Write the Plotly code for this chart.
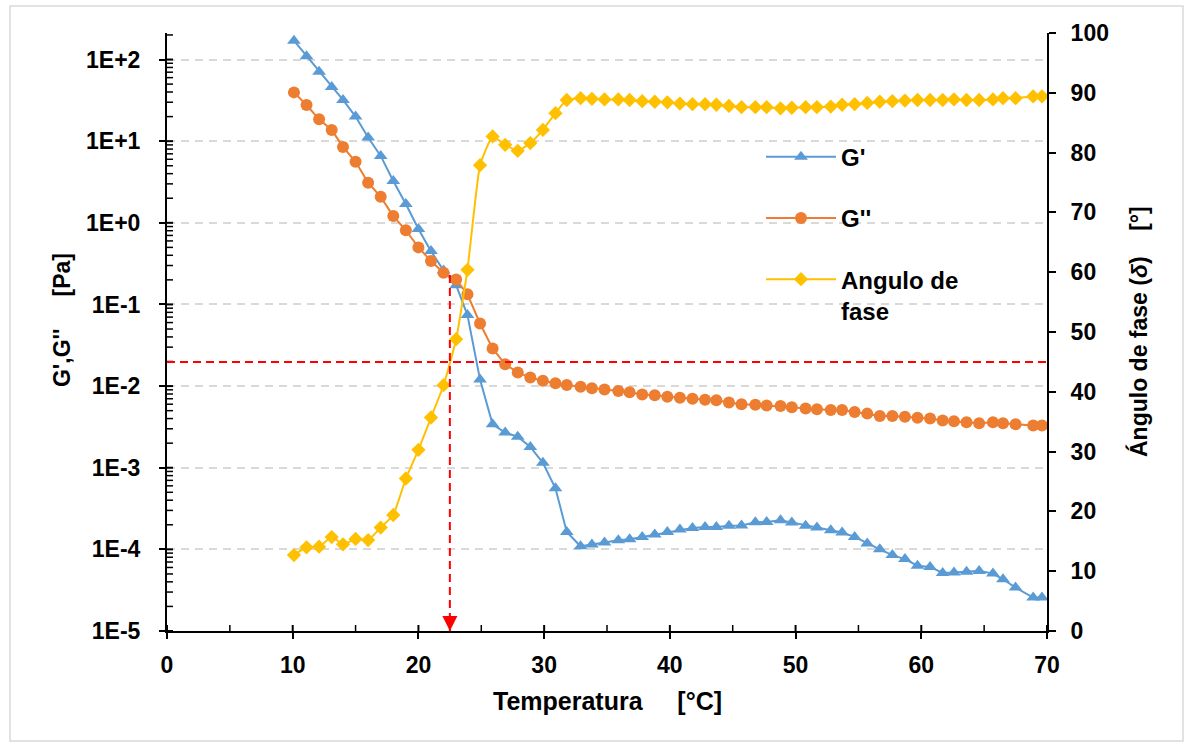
import plotly.graph_objects as go

# Temperature sweep [°C]
temperatura = [10.1, 11.1, 12.1, 13.1, 14.0, 15.0, 16.0, 17.0, 18.0, 19.0,
               20.0, 21.0, 22.0, 23.0, 23.9, 24.9, 25.9, 26.9, 27.9, 28.9,
               29.9, 30.9, 31.8, 32.9, 33.8, 34.8, 35.9, 36.8, 37.8, 38.8,
               39.8, 40.8, 41.8, 42.8, 43.7, 44.7, 45.7, 46.8, 47.7, 48.8,
               49.7, 50.8, 51.7, 52.8, 53.7, 54.7, 55.7, 56.7, 57.7, 58.7,
               59.7, 60.7, 61.7, 62.6, 63.6, 64.6, 65.7, 66.5, 67.5, 68.9, 69.6]

# Storage modulus G' [Pa]
g_prima = [170, 110, 71, 46, 32, 20, 11.1, 6.6, 3.25, 1.7,
           0.84, 0.45, 0.26, 0.172, 0.074, 0.012, 0.0034, 0.0027, 0.0024, 0.0018,
           0.00115, 0.00056, 0.000163, 0.000109, 0.000115, 0.000121, 0.000129, 0.000133, 0.000142, 0.000152,
           0.000163, 0.000175, 0.000183, 0.000188, 0.000188, 0.000194, 0.000196, 0.000215, 0.000216, 0.000228,
           0.000214, 0.000194, 0.000185, 0.000171, 0.000161, 0.000142, 0.000118, 0.0001, 8.5e-5, 7.6e-5,
           6.3e-5, 6.1e-5, 5.15e-5, 5.2e-5, 5.3e-5, 5.45e-5, 5.05e-5, 4.3e-5, 3.4e-5, 2.57e-5, 2.57e-5]

# Loss modulus G'' [Pa]
g_segunda = [39.6, 27.7, 18.5, 13.7, 8.5, 5.6, 3.1, 2.08, 1.21, 0.81,
             0.50, 0.34, 0.244, 0.202, 0.133, 0.0585, 0.0289, 0.0185, 0.0147, 0.0127,
             0.0116, 0.0108, 0.0103, 0.0098, 0.0094, 0.0091, 0.0087, 0.0084, 0.0079, 0.0077,
             0.0074, 0.0072, 0.0070, 0.0068, 0.0067, 0.0063, 0.0060, 0.0059, 0.0058, 0.0057,
             0.0055, 0.0053, 0.0052, 0.0051, 0.0051, 0.0048, 0.0046, 0.0043, 0.0043, 0.0042,
             0.0041, 0.0040, 0.0038, 0.0037, 0.0036, 0.0035, 0.0036, 0.0035, 0.0034, 0.0033, 0.0033]

# Phase angle delta [°]
angulo_fase = [12.7, 14.0, 14.1, 15.7, 14.5, 15.4, 15.2, 17.3, 19.4, 25.5,
               30.3, 35.7, 41.1, 48.8, 60.4, 77.9, 82.7, 81.3, 80.3, 81.6,
               83.8, 86.6, 88.8, 89.1, 89.0, 88.9, 88.9, 88.8, 88.6, 88.5,
               88.4, 88.2, 88.1, 88.1, 88.0, 87.8, 87.6, 87.6, 87.6, 87.4,
               87.5, 87.6, 87.6, 87.7, 88.0, 88.1, 88.3, 88.5, 88.6, 88.7,
               88.8, 88.8, 88.8, 88.9, 88.8, 88.8, 88.9, 89.1, 89.1, 89.4, 89.4]

# Gel point (G' = G'') and the 45° reference
t_cruce = 22.5
g_cruce = 0.23
delta_ref = 45

x_range = [0, 70]
y_log_range = [-5, 2.325]
x_ticks = [0, 10, 20, 30, 40, 50, 60, 70]
x_minor_ticks = [0, 5, 10, 15, 20, 25, 30, 35, 40, 45, 50, 55, 60, 65, 70]
y_ticks = [1e-5, 1e-4, 1e-3, 1e-2, 1e-1, 1e0, 1e1, 1e2]
y_ticktext = ["1E-5", "1E-4", "1E-3", "1E-2", "1E-1", "1E+0", "1E+1", "1E+2"]
y_minor_ticks = [m * d for d in y_ticks for m in range(1, 10)
                 if m * d <= 10 ** y_log_range[1]]
y2_ticks = [0, 10, 20, 30, 40, 50, 60, 70, 80, 90, 100]
y_min = 1e-5

C_GP = "#5B9BD5"
C_GS = "#ED7D31"
C_AF = "#FFC000"
FONT = "Liberation Sans, Arial, sans-serif"

# plot-area size in pixels (used for inner tick lengths)
PW, PH = 880, 598
TICK_IN = 6

fig = go.Figure()

fig.add_trace(go.Scatter(
    x=temperatura, y=g_prima, name="G'", mode="lines+markers",
    line=dict(color=C_GP, width=2),
    marker=dict(symbol="triangle-up", size=12, color=C_GP),
    legendgroup="a"))
fig.add_trace(go.Scatter(
    x=temperatura, y=g_segunda, name="G''", mode="lines+markers",
    line=dict(color=C_GS, width=2),
    marker=dict(symbol="circle", size=12, color=C_GS),
    legendgroup="b"))
fig.add_trace(go.Scatter(
    x=temperatura, y=angulo_fase, name="Angulo de<br>fase", mode="lines+markers",
    line=dict(color=C_AF, width=2, shape="spline", smoothing=0.4),
    marker=dict(symbol="diamond", size=11, color=C_AF),
    yaxis="y2", legendgroup="c"))

tick_font = dict(family=FONT, size=23, color="black", weight="bold")

fig.update_layout(
    width=1188, height=746,
    paper_bgcolor="white", plot_bgcolor="white",
    margin=dict(l=167, r=141, t=33, b=115),
    font=dict(family=FONT, color="black"),
    showlegend=True,
    legend=dict(
        x=0.675, y=0.83, xanchor="left", yanchor="top",
        font=dict(family=FONT, size=24, color="black", weight="bold"),
        bgcolor="rgba(0,0,0,0)", itemwidth=70, tracegroupgap=27,
        valign="top", traceorder="grouped"),
    xaxis=dict(
        range=x_range, tickvals=x_ticks, showgrid=False, zeroline=False,
        showline=True, linecolor="black", linewidth=2,
        ticks="outside", ticklen=6, tickwidth=2, tickcolor="black",
        tickfont=tick_font, ticklabelstandoff=6),
    yaxis=dict(
        type="log", range=y_log_range, tickvals=y_ticks, ticktext=y_ticktext,
        showgrid=True, gridcolor="#D9D9D9", gridwidth=1.5, griddash="8px,6px",
        zeroline=False, showline=True, linecolor="black", linewidth=2,
        ticks="outside", ticklen=6, tickwidth=2, tickcolor="black",
        tickfont=tick_font, ticklabelstandoff=14),
    yaxis2=dict(
        range=[0, 100], tickvals=y2_ticks, overlaying="y", side="right",
        anchor="x", showgrid=False, zeroline=False,
        showline=True, linecolor="black", linewidth=2,
        ticks="outside", ticklen=7, tickwidth=2, tickcolor="black",
        tickfont=tick_font, ticklabelstandoff=10),
)

# Inner halves of the tick marks (crossing ticks on x and log-y axes)
for xv in x_minor_ticks:
    fig.add_shape(type="line", xref="x", yref="paper", x0=xv, x1=xv,
                  y0=0, y1=TICK_IN / PH, layer="above",
                  line=dict(color="black", width=2 if xv in x_ticks else 1.5))
for yv in y_minor_ticks:
    fig.add_shape(type="line", xref="paper", yref="y", x0=0, x1=TICK_IN / PW,
                  y0=yv, y1=yv, layer="above",
                  line=dict(color="black", width=2 if yv in y_ticks else 1.5))

# Reference lines: 45° level and the gel-point temperature
fig.add_shape(type="line", xref="x", yref="y2", x0=x_range[0], x1=x_range[1],
              y0=delta_ref, y1=delta_ref, layer="above",
              line=dict(color="#FF0000", width=2, dash="8px,5px"))
fig.add_shape(type="line", xref="x", yref="y", x0=t_cruce, x1=t_cruce,
              y0=g_cruce, y1=y_min, layer="above",
              line=dict(color="#FF0000", width=2, dash="8px,5px"))
fig.add_annotation(x=t_cruce, y=y_log_range[0], xref="x", yref="y", ax=0, ay=-16,
                   axref="pixel", ayref="pixel", text="", showarrow=True,
                   arrowhead=2, arrowsize=1.5, arrowwidth=2,
                   arrowcolor="#FF0000", standoff=0)

# Axis titles
fig.add_annotation(text="Temperatura\u00a0\u00a0\u00a0\u00a0\u00a0[°C]",
                   xref="paper", yref="paper", x=0.5, y=(631 - 701) / PH,
                   showarrow=False, xanchor="center", yanchor="middle",
                   font=dict(family=FONT, size=25, color="black", weight="bold"))
fig.add_annotation(text="G',G''\u00a0\u00a0\u00a0\u00a0\u00a0[Pa]",
                   xref="paper", yref="paper", x=(62 - 167) / PW, y=0.52,
                   showarrow=False, textangle=-90, xanchor="center", yanchor="middle",
                   font=dict(family=FONT, size=23, color="black", weight="bold"))
fig.add_annotation(text="Ángulo de fase (<i>δ</i>)\u00a0\u00a0\u00a0\u00a0[°]",
                   xref="paper", yref="paper", x=(1138 - 167) / PW, y=0.5,
                   showarrow=False, textangle=-90, xanchor="center", yanchor="middle",
                   font=dict(family=FONT, size=23, color="black", weight="bold"))

# Chart border
fig.add_shape(type="rect", xref="paper", yref="paper",
              x0=(10 - 167) / PW, x1=(1183 - 167) / PW,
              y0=(631 - 741) / PH, y1=(631 - 6) / PH,
              line=dict(color="#D9D9D9", width=1.5), layer="below")

fig.write_html("out.html")
